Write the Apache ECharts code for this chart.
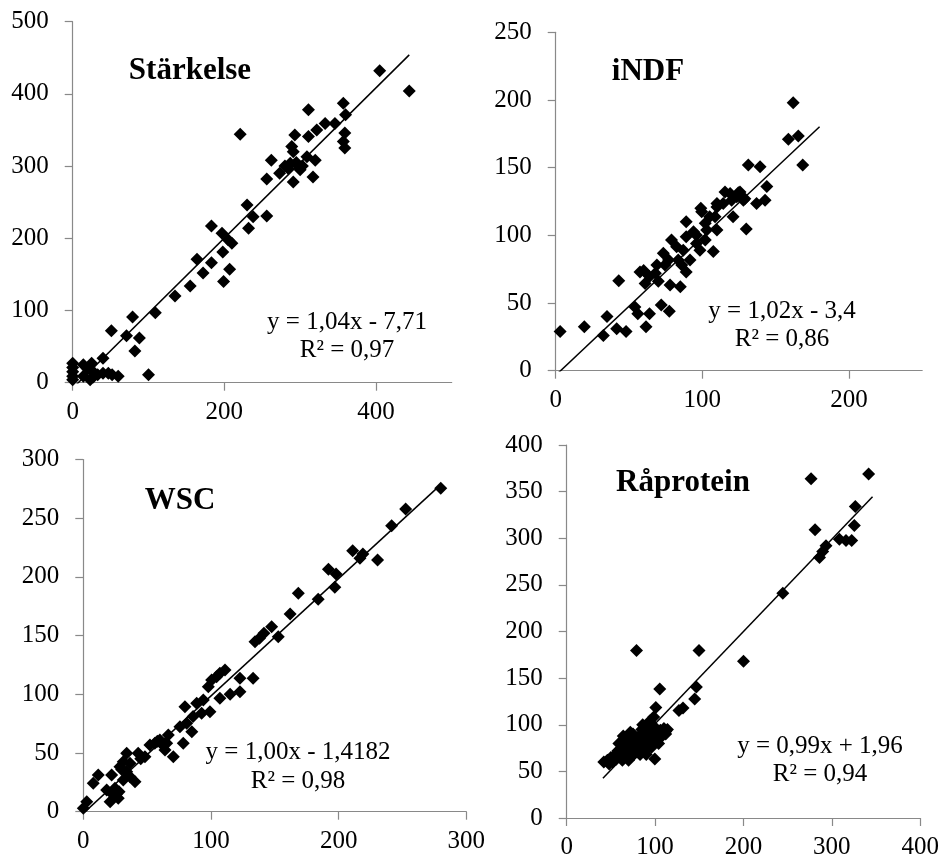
<!DOCTYPE html>
<html><head><meta charset="utf-8">
<script src="https://cdn.jsdelivr.net/npm/echarts@6/dist/echarts.min.js"></script>
<style>html,body{margin:0;padding:0;background:#fff}#c{width:942px;height:860px}</style>
</head><body><div id="c"></div>
<script>
// ---------- DATA ----------
const titles = ['Stärkelse', 'iNDF', 'WSC', 'Råprotein'];
const equations = ['y = 1,04x - 7,71', 'y = 1,02x - 3,4', 'y = 1,00x - 1,4182', 'y = 0,99x + 1,96'];
const r2Labels = ['R² = 0,97', 'R² = 0,86', 'R² = 0,98', 'R² = 0,94'];
const slopes = [1.04, 1.02, 1.00, 0.99];
const intercepts = [-7.71, -3.4, -1.4182, 1.96];
const trendXRange = [[0, 444], [0, 180], [0, 280], [41, 346]];
const xMaxes = [500, 250, 300, 400];
const xIntervals = [200, 100, 100, 100];
const yMaxes = [500, 250, 300, 400];
const yIntervals = [100, 50, 50, 50];

const starkelsePoints = [
 [0,27],[0,21],[0,15],[0,9],[0,4],[14,25],[14,9],[20,19],[25,27],[23,4],[29,13],[27,8],[33,11],
 [40,13],[47,13],[52,11],[60,9],[40,34],[51,72],[71,65],[79,91],[82,44],[88,62],[100,11],[109,97],
 [135,120],[155,134],[164,171],[172,152],[183,166],[183,217],[197,207],[205,198],[210,193],[198,181],
 [207,157],[199,140],[230,246],[238,230],[232,214],[256,231],[256,282],[262,308],[273,290],[284,297],
 [287,304],[289,327],[291,320],[291,278],[293,343],[296,302],[300,295],[309,313],[311,341],[311,378],
 [317,285],[320,308],[322,350],[333,359],[346,359],[357,387],[360,371],[359,346],[357,334],[359,325],
 [221,344],[405,432],[444,404],[280,300],[295,305],[303,300]
];
const indfPoints = [
 [3,29],[19.5,32.5],[32.5,26],[35,40],[41.6,31],[48,29],[43,66.5],[54,47],[56,42],[64,42],[61.6,32.5],
 [72,48.5],[77.5,44],[57.5,73],[61,64.5],[68,72],[70,66],[74.5,78],[73.4,86.7],[79,96.5],[78,63.3],
 [85,62],[83.6,81.8],[89,73],[87,89],[89,99],[89,110],[94,102.7],[96,94],[99.6,117.4],[102,109],
 [102,96.5],[107.5,88],[110,104],[108.7,113.7],[114.3,123.6],[115.5,132],[121,113.7],[120,126],
 [125.7,132],[128,126],[130,104.6],[131.4,152],[139.4,150.7],[137,123.6],[142.8,126],[144,136],
 [162,198],[158.7,171],[165.5,173.3],[168.5,152],[99,120],[110,123.6],[124.6,131.5],[129,127],
 [60,74],[82.5,91.6],[86,78],[91.6,81.8],[96,100],[98.4,89],[103,104],[105,113.7],[110,121],
 [119,131],[123.5,128.5],[69,78],[77,81.8],[64,69.5]
];
const wscPoints = [
 [0,2.9],[2.7,8.5],[7.8,24.2],[11.7,31.3],[18.3,18.5],[21,8.5],[22.2,31.3],[23.5,14.2],[24.8,20],
 [27.4,11.4],[28,17],[28.7,38.3],[31.3,42.6],[31.3,27],[34,49.7],[34,34],[36.6,41.2],[36.6,29.8],
 [40.5,25.5],[43,49.7],[48.3,46.8],[52.2,56.8],[56,58.3],[60,61],[64,52.5],[65.3,58.3],[66.6,65.3],
 [70.5,46.8],[75.7,72.4],[78.3,58.3],[79.6,89.4],[81,75.3],[85,68.1],[86,81],[88.8,92.3],[92.7,83.8],
 [94,95.1],[97.9,106.5],[99.2,85.2],[100.5,112.2],[104.4,115],[107,117.9],[107,96.6],[111,120.7],
 [115,100],[122.7,113.6],[122.7,102.2],[133,113.6],[134.5,144.8],[138,147.7],[141.5,152],[147.5,157.6],
 [152.7,149],[162,168.4],[168.4,186],[184,181],[192,206.5],[197,191.1],[198,202.5],[211,222.3],
 [216.7,215.8],[219,219.5],[230.5,214.4],[241.5,243.6],[252.5,257.8],[280,275.5],[58,60],[62,57],
 [30,36],[26,15],[45,45]
];
const raproteinPoints = [
 [341.6,369],[276.5,363.7],[326.5,334],[325.4,313.6],[281,309],[308.5,299],[316,297.5],[322.4,297.5],
 [293.4,292],[289.6,285.7],[286,279.3],[244.5,241],[200,168],[149.7,179.6],[79,179.6],[105.3,138.3],
 [146.7,140.4],[144.8,127.5],[131.6,118],[127,115.3],[100.8,118.5],[98.5,108.2],[99.7,63.2],[112,92.8],
 [42,60],[46,62],[48,58],[50,65],[52,60],[55,68],[56,63],[58,72],[60,66],[62,70],[63,62],[64,76],
 [65,68],[66,73],[68,65],[68,80],[70,70],[71,75],[72,67],[73,82],[74,72],[75,78],[76,68],[78,85],
 [78,74],[80,71],[81,79],[82,88],[83,68],[84,76],[85,82],[86,72],[88,90],[88,78],[90,84],[91,74],
 [92,95],[93,80],[95,87],[96,76],[97,92],[98,82],[100,97],[101,86],[103,90],[104,80],[106,94],
 [108,88],[110,96],[112,90],[114,95],[59,80],[66,85],[75,90],[85,95],[70,62],[90,68],[64,88],
 [72,92],[86,100],[94,104]
];
const allPoints = [starkelsePoints, indfPoints, wscPoints, raproteinPoints];

// ---------- LAYOUT ----------
const grids = [
 {left: 72.7, top: 21.7, width: 379, height: 361},
 {left: 555.7, top: 32.3, width: 366.5, height: 338.4},
 {left: 83.3, top: 459.5, width: 383, height: 352.2},
 {left: 566.7, top: 445, width: 354.4, height: 373.3}
];
const titlePos = [[190, 71], [648, 72], [180, 501], [683, 483]];
const eqPos = [[347, 322, 350], [782, 311, 339], [298, 752, 781], [820, 746, 774]];

const FONT = '"Liberation Serif", "Times New Roman", serif';
const AXIS_COLOR = '#898989';

const option = {
  animation: false,
  backgroundColor: '#fff',
  grid: [], xAxis: [], yAxis: [], series: [], graphic: []
};

function textEl(x, y, text, font) {
  return {type: 'text', x: x, y: y, z: 100,
    style: {text: text, font: font, fill: '#000',
      align: 'center', verticalAlign: 'middle',
      textAlign: 'center', textVerticalAlign: 'middle'}};
}

for (let i = 0; i < 4; i++) {
  option.grid.push(Object.assign({containLabel: false}, grids[i]));
  const axisCommon = {
    type: 'value', min: 0, splitLine: {show: false},
    axisLine: {show: true, lineStyle: {color: AXIS_COLOR, width: 1.2}},
    axisTick: {show: true, inside: false, length: 8, lineStyle: {color: AXIS_COLOR, width: 1.2}},
    axisLabel: {color: '#000', fontFamily: FONT, fontSize: 25, showMaxLabel: true}
  };
  option.xAxis.push(Object.assign({}, axisCommon, {
    gridIndex: i, max: xMaxes[i], interval: xIntervals[i],
    axisLabel: Object.assign({}, axisCommon.axisLabel, {margin: 17,
      showMaxLabel: xMaxes[i] % xIntervals[i] === 0})
  }));
  option.yAxis.push(Object.assign({}, axisCommon, {
    gridIndex: i, max: yMaxes[i], interval: yIntervals[i],
    axisLabel: Object.assign({}, axisCommon.axisLabel, {margin: 24})
  }));
  option.series.push({
    type: 'scatter', xAxisIndex: i, yAxisIndex: i, data: allPoints[i],
    symbol: 'diamond', symbolSize: 13, itemStyle: {color: '#000', opacity: 1}, z: 2
  });
  const [x0, x1] = trendXRange[i];
  option.series.push({
    type: 'line', xAxisIndex: i, yAxisIndex: i, clip: true,
    data: [[x0, slopes[i] * x0 + intercepts[i]], [x1, slopes[i] * x1 + intercepts[i]]],
    symbol: 'none', lineStyle: {color: '#000', width: 1.5}, z: 3, silent: true
  });
  option.graphic.push(textEl(titlePos[i][0], titlePos[i][1], titles[i], 'bold 31px ' + FONT));
  option.graphic.push(textEl(eqPos[i][0], eqPos[i][1], equations[i], '25px ' + FONT));
  option.graphic.push(textEl(eqPos[i][0], eqPos[i][2], r2Labels[i], '25px ' + FONT));
}

const chart = echarts.init(document.getElementById('c'), null, {renderer: 'canvas'});
chart.setOption(option);
</script>
</body></html>
